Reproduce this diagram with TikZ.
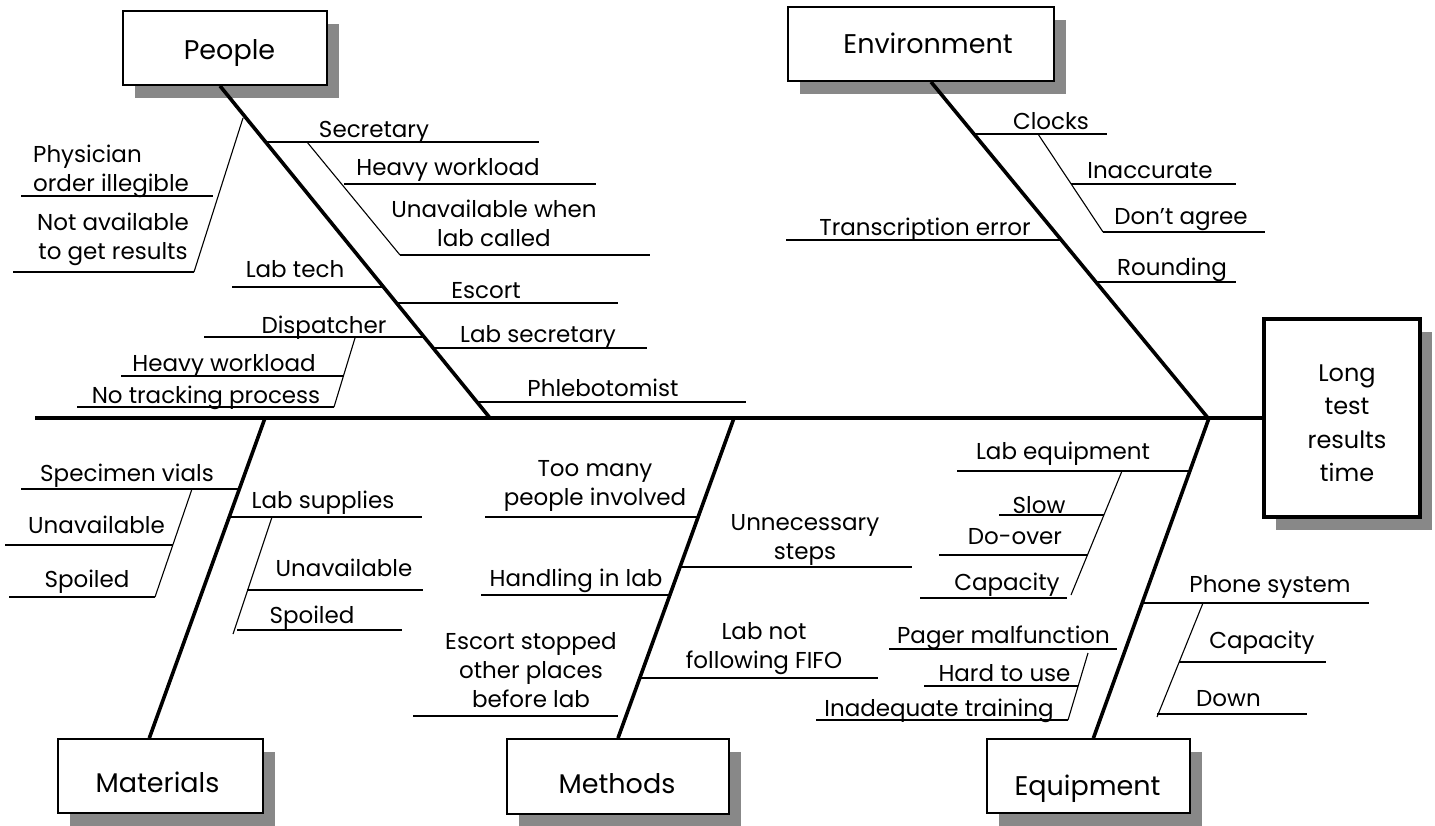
\documentclass[tikz,border=0pt]{standalone}
\usepackage{fontspec}
\setmainfont{Poppins}
\usetikzlibrary{shadows}
\newcommand\mlines[2]{\begin{tabular}[t]{@{}#1@{}}#2\end{tabular}}
\newcommand\bxt[3]{\raisebox{-#2pt}[0pt][0pt]{\makebox[0pt]{\hspace*{#1pt}#3}}}
\definecolor{shade}{HTML}{888888}
\begin{document}
\begin{tikzpicture}[x=1pt,y=-1pt,
  bone/.style={line width=3.6pt},
  thk/.style={line width=2.3pt},
  thn/.style={line width=1.5pt},
  twig/.style={line width=1.1pt},
  lbl/.style={font=\fontsize{23}{29}\selectfont, inner sep=0pt, anchor=base},
  catbox/.style={draw, line width=1.8pt, fill=white, inner sep=0pt,
    font=\fontsize{27}{30}\selectfont,
    drop shadow={shadow xshift=12pt, shadow yshift=-13pt, fill=shade, opacity=1}},
]
\useasboundingbox (0,0) rectangle (1435,825);

% ---- boxes ----
\node[catbox, minimum width=204pt, minimum height=74pt] (people) at (225,48) {\bxt{9}{11}{People}};
\node[catbox, minimum width=266pt, minimum height=74pt] (env) at (921,44) {\bxt{14}{9}{Environment}};
\node[catbox, minimum width=205pt, minimum height=74pt] (mat) at (160.5,776) {\bxt{-6}{16}{Materials}};
\node[catbox, minimum width=222pt, minimum height=75pt] (meth) at (618,776.5) {\bxt{-2}{16.5}{Methods}};
\node[catbox, minimum width=203pt, minimum height=74pt] (equip) at (1088.5,776) {\bxt{-2}{19}{Equipment}};
\node[catbox, line width=3.5pt, minimum width=156pt, minimum height=198pt,
  font=\fontsize{24}{33.5}\selectfont] (effect) at (1342,418)
  {\bxt{10}{-37}{\mlines{c}{Long\\test\\results\\time}}};

% ---- spine and bones ----
\coordinate (tail) at (35,418);
\coordinate (pj) at (490,418);
\coordinate (ej) at (1208,418);
\coordinate (mj) at (265,418);
\coordinate (mtj) at (734,418);
\coordinate (qj) at (1209,418);
\draw[bone] (tail) -- (effect.west);
\draw[bone] ([xshift=-5pt]people.south) -- (pj);
\draw[bone] ([xshift=10pt]env.south) -- (ej);
\draw[bone] (mj) -- ([xshift=-11.2pt]mat.north);
\draw[bone] (mtj) -- (meth.north);
\draw[bone] (qj) -- ([xshift=4.9pt]equip.north);

% ---- People ----
\coordinate (pSec) at (265.5,142);
\draw[thn] (pSec) -- (539,142);
\node[lbl] (tSec) at (374,137) {Secretary};
\coordinate (sw1) at (307,142);
\coordinate (sw2) at (400,255);
\draw[twig] (sw1) -- (sw2);
\draw[thn] (344,184) -- (596,184);
\node[lbl] (tHw1) at (448,175) {Heavy workload};
\draw[thn] (sw2) -- (650,255);
\node[lbl] (tUna) at (494,217) {\mlines{c}{Unavailable when\\lab called}};

\coordinate (pPh) at (243,118);
\coordinate (phw) at (194,272);
\draw[twig] (pPh) -- (phw);
\draw[thn] (21,196) -- (213,196);
\node[lbl, anchor=base west] (tPhy) at (33,162) {\mlines{l}{Physician\\order illegible}};
\draw[thk] (13,272) -- (phw);
\node[lbl] (tNot) at (113,230) {\mlines{c}{Not available\\to get results}};

\coordinate (pLt) at (383.5,287);
\draw[thn] (232,287) -- (pLt);
\node[lbl] (tLt) at (295,277) {Lab tech};
\coordinate (pEs) at (396.5,303);
\draw[thn] (pEs) -- (618,303);
\node[lbl] (tEs) at (486,298) {Escort};
\coordinate (pDi) at (424,337);
\draw[thn] (204,337) -- (pDi);
\node[lbl] (tDi) at (324,333) {Dispatcher};
\coordinate (dw1) at (355,338);
\coordinate (dw2) at (334,407);
\draw[twig] (dw1) -- (dw2);
\draw[thk] (121,376) -- (343.5,376);
\node[lbl] (tHw2) at (224,371) {Heavy workload};
\draw[thn] (77,407) -- (dw2);
\node[lbl] (tNo) at (206,403) {No tracking process};
\coordinate (pLs) at (433,348);
\draw[thk] (pLs) -- (647,348);
\node[lbl] (tLs) at (538,342) {Lab secretary};
\coordinate (pPb) at (477,402);
\draw[thk] (pPb) -- (746,402);
\node[lbl] (tPb) at (603,396) {Phlebotomist};

% ---- Environment ----
\coordinate (eCl) at (974.6,134);
\draw[thk] (eCl) -- (1107,134);
\node[lbl] (tCl) at (1051,129) {Clocks};
\coordinate (cw1) at (1038,134);
\coordinate (cw2) at (1103,232);
\draw[twig] (cw1) -- (cw2);
\draw[thn] (1071,184) -- (1236,184);
\node[lbl] (tIn) at (1150,178) {Inaccurate};
\draw[thn] (cw2) -- (1265,232);
\node[lbl] (tDa) at (1181,224) {Don’t agree};
\coordinate (eTr) at (1061.7,240);
\draw[thn] (786,240) -- (eTr);
\node[lbl] (tTr) at (925,235) {Transcription error};
\coordinate (eRo) at (1096.2,282);
\draw[thn] (eRo) -- (1236,282);
\node[lbl] (tRo) at (1172,275) {Rounding};

% ---- Materials ----
\coordinate (mSv) at (239.3,489);
\draw[thn] (21,489) -- (mSv);
\node[lbl] (tSv) at (127,481) {Specimen vials};
\coordinate (vw1) at (192,489);
\coordinate (vw2) at (155,597);
\draw[twig] (vw1) -- (vw2);
\draw[thk] (5,545) -- (172.5,545);
\node[lbl] (tUa1) at (96.5,533) {Unavailable};
\draw[thk] (9,597) -- (vw2);
\node[lbl] (tSp1) at (87,587) {Spoiled};
\coordinate (mLs) at (229.2,517);
\draw[thk] (mLs) -- (422,517);
\node[lbl] (tLsu) at (323,508) {Lab supplies};
\coordinate (lw1) at (272,517);
\coordinate (lw2) at (233,634);
\draw[twig] (lw1) -- (lw2);
\draw[thk] (247,590) -- (423,590);
\node[lbl] (tUa2) at (344,576) {Unavailable};
\draw[thn] (237,630) -- (402,630);
\node[lbl] (tSp2) at (312,623) {Spoiled};

% ---- Methods ----
\coordinate (tTm) at (698.2,517);
\draw[thk] (485,517) -- (tTm);
\node[lbl] (lTm) at (595,476) {\mlines{c}{Too many\\people involved}};
\coordinate (tUn) at (680.2,567);
\draw[thk] (tUn) -- (912,567);
\node[lbl] (lUn) at (805,530) {\mlines{c}{Unnecessary\\steps}};
\coordinate (tHa) at (670,595);
\draw[thn] (481,595) -- (tHa);
\node[lbl] (lHa) at (576,586) {Handling in lab};
\coordinate (tFi) at (640,678);
\draw[thk] (tFi) -- (878,678);
\node[lbl] (lFi) at (764,639) {\mlines{c}{Lab not\\following FIFO}};
\coordinate (tEsc) at (618,716);
\draw[thn] (413,716) -- (tEsc);
\node[lbl] (lEsc) at (531,649) {\mlines{c}{Escort stopped\\other places\\before lab}};

% ---- Equipment ----
\coordinate (qLe) at (1189.8,471);
\draw[thk] (957,471) -- (qLe);
\node[lbl] (lLe) at (1063,459) {Lab equipment};
\coordinate (qw1) at (1122,471);
\coordinate (qw2) at (1071,595);
\draw[twig] (qw1) -- (qw2);
\draw[thn] (999,515) -- (1104,515);
\node[lbl] (lSl) at (1039,513) {Slow};
\draw[thn] (939,555) -- (1087,555);
\node[lbl] (lDo) at (1015,544) {Do-over};
\draw[thn] (920,598) -- (1067,598);
\node[lbl] (lCa1) at (1007,590) {Capacity};
\coordinate (qPh) at (1142.1,603);
\draw[thn] (qPh) -- (1369,603);
\node[lbl] (lPh) at (1270,592) {Phone system};
\coordinate (hw1) at (1203,603);
\coordinate (hw2) at (1157,717);
\draw[twig] (hw1) -- (hw2);
\draw[thn] (1179,662) -- (1326,662);
\node[lbl] (lCa2) at (1262,648) {Capacity};
\draw[thn] (1157,714) -- (1307,714);
\node[lbl] (lDn) at (1228.5,706) {Down};
\coordinate (qPg) at (1117,649);
\draw[thn] (889,649) -- (qPg);
\node[lbl] (lPg) at (1003.5,643) {Pager malfunction};
\coordinate (gw1) at (1088,653);
\coordinate (gw2) at (1068,720);
\draw[twig] (gw1) -- (gw2);
\draw[thn] (924,686) -- (1078,686);
\node[lbl] (lHd) at (1004.5,681) {Hard to use};
\draw[thk] (816,720) -- (gw2);
\node[lbl] (lIn) at (939,716) {Inadequate training};
\end{tikzpicture}
\end{document}
